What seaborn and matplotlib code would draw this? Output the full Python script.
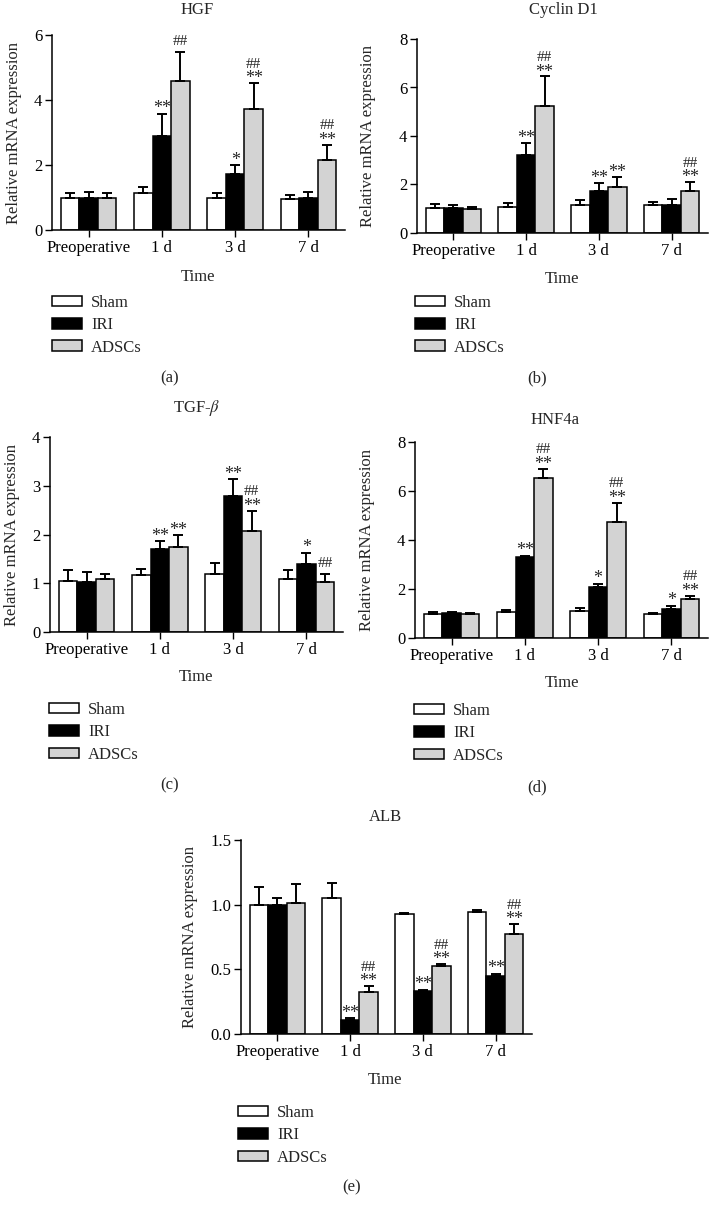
import matplotlib
matplotlib.use("Agg")
import matplotlib.pyplot as plt
import seaborn as sns
import pandas as pd

sns.set_theme(style="ticks")
plt.rcParams["font.family"] = ["Liberation Serif", "DejaVu Serif"]
plt.rcParams["mathtext.fontset"] = "stix"

times = ["Preoperative", "1 d", "3 d", "7 d"]
groups = ["Sham", "IRI", "ADSCs"]
colors = {"Sham": "#ffffff", "IRI": "#000000", "ADSCs": "#d3d3d3"}

# HGF
hgf_sham = [1.00, 1.13, 0.98, 0.95]
hgf_iri = [1.00, 2.90, 1.72, 0.98]
hgf_adscs = [0.97, 4.60, 3.72, 2.16]
hgf_sham_err = [0.15, 0.20, 0.17, 0.13]
hgf_iri_err = [0.17, 0.68, 0.27, 0.18]
hgf_adscs_err = [0.16, 0.87, 0.81, 0.47]
hgf_iri_sig = ["", "**", "*", ""]
hgf_adscs_sig = ["", "##", "##\n**", "##\n**"]

# Cyclin D1
cyc_sham = [1.03, 1.07, 1.17, 1.14]
cyc_iri = [1.02, 3.22, 1.73, 1.14]
cyc_adscs = [0.98, 5.22, 1.91, 1.73]
cyc_sham_err = [0.17, 0.18, 0.19, 0.15]
cyc_iri_err = [0.13, 0.49, 0.32, 0.28]
cyc_adscs_err = [0.09, 1.24, 0.39, 0.37]
cyc_iri_sig = ["", "**", "**", ""]
cyc_adscs_sig = ["", "##\n**", "**", "##\n**"]

# TGF-beta
tgf_sham = [1.05, 1.17, 1.19, 1.08]
tgf_iri = [1.03, 1.70, 2.79, 1.40]
tgf_adscs = [1.08, 1.74, 2.07, 1.03]
tgf_sham_err = [0.23, 0.13, 0.23, 0.20]
tgf_iri_err = [0.21, 0.16, 0.34, 0.23]
tgf_adscs_err = [0.10, 0.24, 0.42, 0.16]
tgf_iri_sig = ["", "**", "**", "*"]
tgf_adscs_sig = ["", "**", "##\n**", "##"]

# HNF4a
hnf_sham = [1.00, 1.08, 1.10, 0.98]
hnf_iri = [1.02, 3.30, 2.09, 1.20]
hnf_adscs = [1.00, 6.55, 4.72, 1.58]
hnf_sham_err = [0.06, 0.07, 0.14, 0.06]
hnf_iri_err = [0.03, 0.06, 0.12, 0.12]
hnf_adscs_err = [0.04, 0.36, 0.81, 0.15]
hnf_iri_sig = ["", "**", "*", "*"]
hnf_adscs_sig = ["", "##\n**", "##\n**", "##\n**"]

# ALB
alb_sham = [1.00, 1.055, 0.93, 0.94]
alb_iri = [1.00, 0.105, 0.33, 0.45]
alb_adscs = [1.01, 0.324, 0.527, 0.77]
alb_sham_err = [0.14, 0.115, 0.003, 0.015]
alb_iri_err = [0.05, 0.015, 0.012, 0.016]
alb_adscs_err = [0.15, 0.049, 0.013, 0.08]
alb_iri_sig = ["", "**", "**", "**"]
alb_adscs_sig = ["", "##\n**", "##\n**", "##\n**"]

W, H = 710, 1209
FS = 12
fig = plt.figure(figsize=(W / 100, H / 100), dpi=100)


def px_axes(left, right, top, bottom):
    return fig.add_axes([left / W, 1 - bottom / H, (right - left) / W, (bottom - top) / H])


def mark(ax, x, y, text, dy, size):
    ax.annotate(text, (x, y), xytext=(0, dy), textcoords="offset points",
                ha="center", va="center", fontsize=size)


def panel(box, title, vals, errs, sigs, yticks, ylim, fmt, title_xy, time_xy, leg_xy, cap_xy, cap, ylab_x):
    ax = px_axes(*box)
    df = pd.DataFrame({
        "Time": times * 3,
        "Group": [g for g in groups for _ in times],
        "value": vals[0] + vals[1] + vals[2],
    })
    sns.barplot(data=df, x="Time", y="value", hue="Group", order=times, hue_order=groups,
                palette=colors, edgecolor="black", linewidth=1.1, width=0.76,
                errorbar=None, ax=ax, saturation=1)
    for container, v, e, s in zip(ax.containers, vals, errs, sigs):
        for bar, vi, ei, si in zip(container, v, e, s):
            x = bar.get_x() + bar.get_width() / 2
            top = vi + ei
            ax.errorbar([x], [vi], yerr=[[0], [ei]], fmt="none", ecolor="black",
                        elinewidth=1.4, capsize=3.5, capthick=1.4, zorder=1)
            if not si:
                continue
            parts = si.split("\n")
            if len(parts) == 2:
                mark(ax, x, top, parts[1], 3.0, 13)
                mark(ax, x, top, parts[0], 13.5, 11)
            elif parts[0].startswith("#"):
                mark(ax, x, top, parts[0], 7.5, 11)
            else:
                mark(ax, x, top, parts[0], 3.5, 13)
    handles, labels = ax.get_legend_handles_labels()
    if ax.get_legend() is not None:
        ax.get_legend().remove()
    ax.set_xlim(-0.5, 3.5)
    ax.set_ylim(*ylim)
    ax.set_yticks(yticks)
    ax.set_yticklabels([fmt.format(t) for t in yticks])
    ax.set_xlabel("")
    ax.set_ylabel("Relative mRNA expression", fontsize=FS, va="center")
    ax.yaxis.set_label_coords(ylab_x, 0.5)
    ax.tick_params(axis="both", direction="out", length=5, width=1, labelsize=FS, color="black",
                   labelcolor="black", pad=2)
    for sp in ["top", "right"]:
        ax.spines[sp].set_visible(False)
    for sp in ["left", "bottom"]:
        ax.spines[sp].set_linewidth(1.1)
        ax.spines[sp].set_color("black")
    fig.text(title_xy[0] / W, 1 - title_xy[1] / H, title, ha="center", va="center", fontsize=FS)
    fig.text(time_xy[0] / W, 1 - time_xy[1] / H, "Time", ha="center", va="center", fontsize=FS)
    fig.text(cap_xy[0] / W, 1 - cap_xy[1] / H, cap, ha="center", va="center", fontsize=FS)
    fig.legend(handles, labels, loc="upper left", bbox_to_anchor=(leg_xy[0] / W, 1 - leg_xy[1] / H),
               frameon=False, fontsize=FS, handlelength=1.8, handleheight=0.6,
               handletextpad=0.55, labelspacing=0.38, borderpad=0, borderaxespad=0)
    return ax


panel((52, 345, 35, 230), "HGF", [hgf_sham, hgf_iri, hgf_adscs],
      [hgf_sham_err, hgf_iri_err, hgf_adscs_err], [[""] * 4, hgf_iri_sig, hgf_adscs_sig],
      [0, 2, 4, 6], (0, 6), "{:g}", (197, 10), (198, 277), (52, 295), (170, 378), "(a)", -0.13)

panel((417, 708, 39, 233), "Cyclin D1", [cyc_sham, cyc_iri, cyc_adscs],
      [cyc_sham_err, cyc_iri_err, cyc_adscs_err], [[""] * 4, cyc_iri_sig, cyc_adscs_sig],
      [0, 2, 4, 6, 8], (0, 8), "{:g}", (563, 10), (562, 279), (415, 295), (537, 378), "(b)", -0.168)

panel((50, 343, 437, 632), r"TGF-$\beta$", [tgf_sham, tgf_iri, tgf_adscs],
      [tgf_sham_err, tgf_iri_err, tgf_adscs_err], [[""] * 4, tgf_iri_sig, tgf_adscs_sig],
      [0, 1, 2, 3, 4], (0, 4), "{:g}", (197, 408), (196, 677), (49, 702), (170, 785), "(c)", -0.13)

panel((415, 708, 442, 638), "HNF4a", [hnf_sham, hnf_iri, hnf_adscs],
      [hnf_sham_err, hnf_iri_err, hnf_adscs_err], [[""] * 4, hnf_iri_sig, hnf_adscs_sig],
      [0, 2, 4, 6, 8], (0, 8), "{:g}", (555, 420), (562, 683), (414, 703), (537, 787), "(d)", -0.164)

panel((241, 532, 840, 1034), "ALB", [alb_sham, alb_iri, alb_adscs],
      [alb_sham_err, alb_iri_err, alb_adscs_err], [[""] * 4, alb_iri_sig, alb_adscs_sig],
      [0.0, 0.5, 1.0, 1.5], (0, 1.5), "{:.1f}", (385, 817), (385, 1080), (238, 1105), (352, 1187), "(e)", -0.175)

fig.savefig("out.png", dpi=100)
